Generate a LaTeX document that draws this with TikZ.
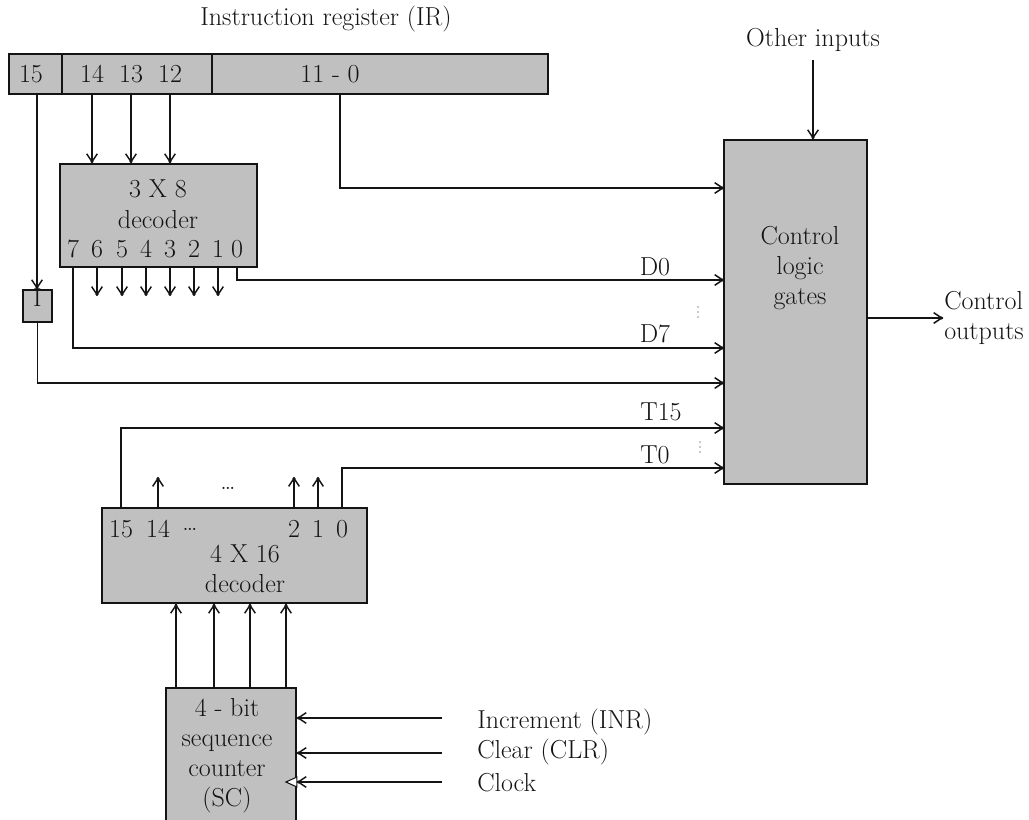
\documentclass[tikz,border=0pt]{standalone}
\usepackage{fontspec}
\usetikzlibrary{arrows.meta,fit,calc}
\definecolor{ink}{HTML}{141414}
\definecolor{boxgray}{HTML}{C0C0C0}
\tikzset{
  every node/.style={font=\fontsize{19.5}{22.5}\selectfont, text=ink, inner sep=0pt},
  blk/.style={draw=ink, fill=boxgray, line width=1.4pt, inner sep=0pt},
  lbl/.style={align=center},
  wire/.style={draw=ink, line width=1.1pt},
  sig/.style={wire, -{Straight Barb[length=6pt,width=8pt,sep=-2pt] Circle[length=2pt]}},
}
\begin{document}
\begin{tikzpicture}[x=0.75pt,y=-0.75pt]
\useasboundingbox (0,0) rectangle (1029,820);
\clip (0,0) rectangle (1029,820);
% instruction register
\node (title) at (326,19) {Instruction register (IR)};
\node[blk, fit={(9,54) (62,94)}] (irA) {};
\node[blk, fit={(62,54) (212,94)}] (irB) {};
\node[blk, fit={(212,54) (548,94)}] (irC) {};
\node (b15) at (31,74) {15};
\node (b14) at (92,74) {14};
\node (b13) at (131,74) {13};
\node (b12) at (170,74) {12};
\node (b110) at (330,74) {11 - 0};
\coordinate (t15) at (37,94);
\coordinate (t110) at (340,94);
% 3 x 8 decoder
\node[blk, fit={(60,164) (257,267)}] (dec3) {};
\node (d3a) at (158,189) {3 X 8};
\node (d3b) at (158,220) {decoder};
\foreach \d/\x in {7/73,6/97,5/122,4/146,3/170,2/194,1/218,0/237}
  \node (o\d) at (\x,249) {\d};
\node[blk, fit={(23,290) (52,322)}] (ibit) {I};
% control logic
\node[blk, fit={(724,140) (867,484)}] (ctl) {};
\node[lbl] (ctltxt) at (800,268) {Control\\logic\\gates};
\node (other) at (813,40) {Other inputs};
\foreach \n/\y in {ir/188,d0/280,d7/348,i/383,t15/428,t0/468}
  \coordinate (in-\n) at (724,\y);
\coordinate (cout) at (943,318);
\node[anchor=west, align=left] (couttxt) at (944,318) {Control\\outputs};
% 4 x 16 decoder
\node[blk, fit={(102,508) (367,603)}] (dec16) {};
\foreach \n/\x in {15/121,14/158,2/294,1/318,0/342}
  \node (q\n) at (\x,529) {\n};
\node (qdd) at (190,529) {\ldots};
\node (d16a) at (245,554) {4 X 16};
\node (d16b) at (245,584) {decoder};
\node (qdots) at (228,488) {\ldots};
% sequence counter
\node[blk, fit={(166,688) (296,840)}] (sc) {};
\node[lbl] (sctxt) at (227,756) {4 - bit\\sequence\\counter\\(SC)};
\node[anchor=west] (inr) at (477,722) {Increment (INR)};
\node[anchor=west] (clr) at (477,752) {Clear (CLR)};
\node[anchor=west] (clk) at (477,783) {Clock};
\coordinate (s1) at (442,718);
\coordinate (s2) at (442,753);
\coordinate (s3) at (442,782);
% signal labels
\node (lD0) at (655,267) {D0};
\node (lD7) at (655,334) {D7};
\node (lT15) at (661,412) {T15};
\node (lT0) at (655,455) {T0};
\foreach \k in {-5,0,5} {\fill[ink] (698,312+\k) circle (0.7); \fill[ink] (700,447+\k) circle (0.7);}
% wires
\foreach \b in {14,13,12} \draw[sig] (b\b |- irB.south) -- (b\b |- dec3.north);
\draw[sig] (t15) -- (t15 |- ibit.north);
\draw[sig] (t110) |- (in-ir);
\foreach \d in {1,...,6} \draw[sig] (o\d |- dec3.south) -- ++(0,28);
\draw[sig] (o0 |- dec3.south) |- (in-d0);
\draw[sig] (o7 |- dec3.south) |- (in-d7);
\draw[sig] (ibit.south) |- (in-i);
\draw[sig] (q15 |- dec16.north) |- (in-t15);
\draw[sig] (q0 |- dec16.north) |- (in-t0);
\foreach \n in {14,2,1} \draw[sig] (q\n |- dec16.north) -- ++(0,-30);
\draw[sig] ($(other.south)+(0,8)$) -- (other.south |- ctl.north);
\draw[sig] (ctl.east |- cout) -- (cout);
\foreach \x in {176,214,250,286} \draw[sig] (\x,0 |- sc.north) -- (\x,0 |- dec16.south);
\draw[sig] (s1) -- (s1 -| sc.east);
\draw[sig] (s2) -- (s2 -| sc.east);
\draw[wire, fill=white, line width=0.8pt] ($(s3 -| sc.east)+(0,-5)$) -- ++(-11,5) -- ++(11,5) -- cycle;
\draw[sig] (s3) -- (s3 -| sc.east);
\end{tikzpicture}
\end{document}
